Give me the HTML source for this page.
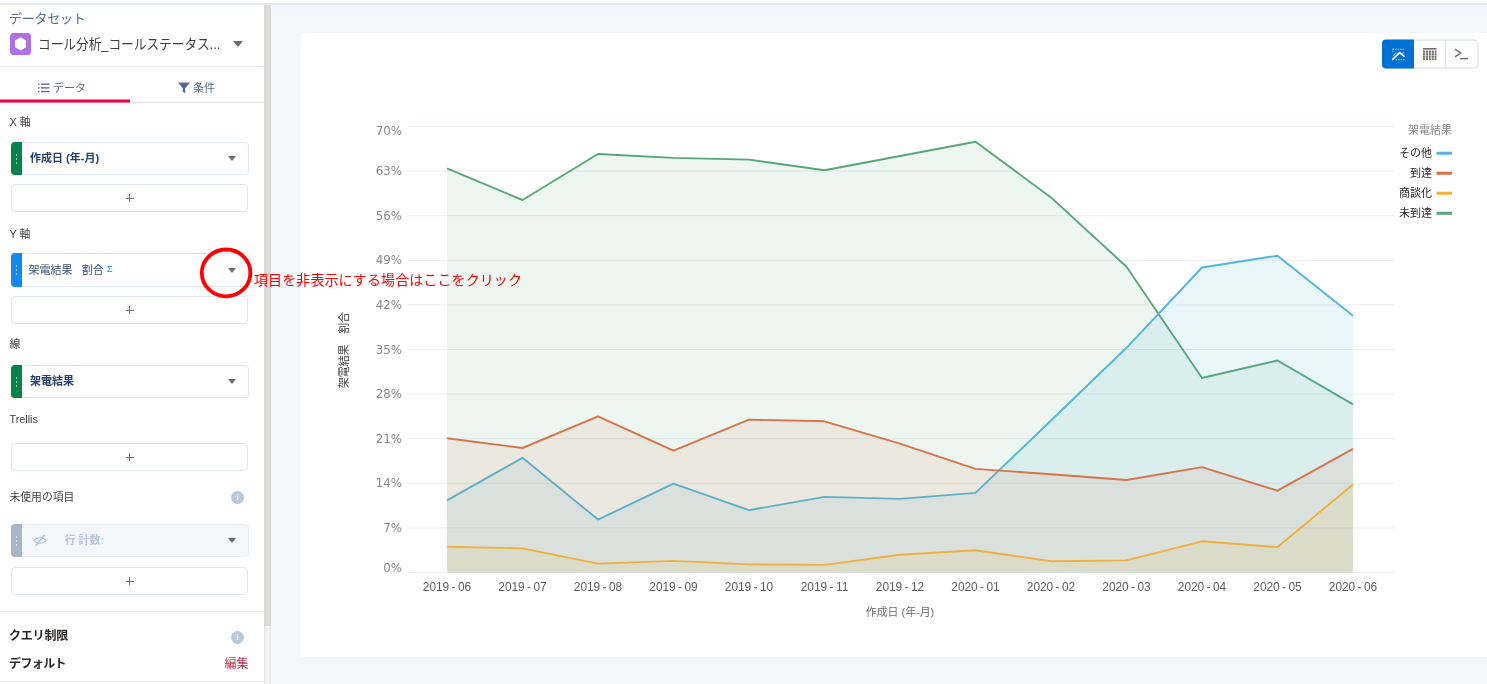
<!DOCTYPE html>
<html lang="ja">
<head>
<meta charset="utf-8">
<title>データセット</title>
<style>
*{box-sizing:border-box;margin:0;padding:0}
html,body{width:1487px;height:684px;overflow:hidden}
body{background:#f3f6fa;font-family:"Liberation Sans","Noto Sans CJK JP",sans-serif;color:#16325c;position:relative}
.abs{position:absolute}
#topbar{left:0;top:0;width:1487px;height:5px;background:linear-gradient(#fff 0,#fff 2.4px,#e4eaf1 3.2px,#e4eaf1 4px,#edf1f6 5px)}
#panel{left:0;top:5px;width:264px;height:679px;background:#fff}
#sb{left:264px;top:5px;width:7px;height:621px;background:linear-gradient(90deg,#d6d4d2,#dedcda 40%,#dedcda 60%,#d8d6d4)}
#sb2{left:264px;top:626px;width:7px;height:58px;background:linear-gradient(90deg,#e3e3e3,#f5f5f5 45%,#f5f5f5 60%,#e6e6e6)}
.lbl{position:absolute;left:9.5px;font-size:10.8px;color:#3e3e3c;line-height:14px;white-space:nowrap}
.fld{position:absolute;left:11px;width:238px;height:33px;border:1px solid #dfe6f0;border-radius:4px;background:#fff}
.fld .h{position:absolute;left:-1px;top:-1px;width:11px;height:33px;border-radius:4px 0 0 4px}
.fld .h i{position:absolute;left:4.5px;width:1.6px;height:1.6px;background:rgba(255,255,255,.6)}
.fld .t{position:absolute;left:18px;top:0;line-height:31px;font-size:11px;font-weight:bold;color:#243f6b;white-space:nowrap}
.car{position:absolute;width:0;height:0;border-left:4px solid transparent;border-right:4px solid transparent;border-top:5px solid #706e6b}
.plus{position:absolute;left:11px;width:237px;height:28px;border:1px solid #dfe6f0;border-radius:4px;background:#fff}
.plus:before{content:"";position:absolute;left:113.5px;top:12.5px;width:8px;height:1px;background:#5c7296}
.plus:after{content:"";position:absolute;left:117px;top:9px;width:1px;height:8px;background:#5c7296}
.info{position:absolute;width:13px;height:13px;border-radius:50%;background:#b8c7da;color:#fff;font-size:9px;font-weight:bold;line-height:13px;text-align:center;font-family:"Liberation Serif",serif}
#card{left:301px;top:32.6px;width:1186px;height:624.2px;background:#fff}
</style>
</head>
<body>
<div id="topbar" class="abs"></div>
<div id="panel" class="abs"></div>
<div id="sb" class="abs"></div>
<div id="sb2" class="abs"></div>

<!-- header -->
<div class="abs" style="left:9px;top:9.5px;font-size:13px;line-height:18px;letter-spacing:-0.25px;color:#527095;white-space:nowrap">データセット</div>
<svg class="abs" style="left:10px;top:33px" width="21" height="22" viewBox="0 0 21 22"><rect width="21" height="22" rx="3.5" fill="#b070e6"/><path d="M10.5 4.2 L16 7.4 V14.2 L10.5 17.6 L5 14.2 V7.4 Z" fill="#fff"/></svg>
<div class="abs" style="left:38px;top:32px;font-size:14px;line-height:24px;color:#3e3e3c;white-space:nowrap;transform:scaleX(0.905);transform-origin:0 0">コール分析_コールステータス...</div>
<div class="car" style="left:233px;top:41px;border-left-width:5px;border-right-width:5px;border-top-width:6px"></div>
<div class="abs" style="left:0;top:66px;width:264px;height:1px;background:#e6ebf2"></div>

<!-- tabs -->
<div class="abs" style="left:0;top:101px;width:264px;height:1px;background:#dddbda;transform:translateY(0.7px)"></div>
<div class="abs" style="left:0;top:99px;width:130px;height:3px;background:#f5004b;transform:translateY(0.5px)"></div>
<svg class="abs" style="left:38px;top:83px" width="12" height="10" viewBox="0 0 12 10"><g fill="#54698d"><rect x="0" y="0.5" width="1.5" height="1.3"/><rect x="3" y="0.5" width="8.5" height="1.3"/><rect x="0" y="4.2" width="1.5" height="1.3"/><rect x="3" y="4.2" width="8.5" height="1.3"/><rect x="0" y="7.9" width="1.5" height="1.3"/><rect x="3" y="7.9" width="8.5" height="1.3"/></g></svg>
<div class="abs" style="left:53px;top:79px;font-size:11px;line-height:18px;color:#54708f;white-space:nowrap">データ</div>
<svg class="abs" style="left:178px;top:82px" width="12" height="12" viewBox="0 0 12 12"><path d="M0 0.5 H12 L7.2 6.2 V11.5 L4.8 9.8 V6.2 Z" fill="#54698d"/></svg>
<div class="abs" style="left:193px;top:79px;font-size:11px;line-height:18px;color:#54708f;white-space:nowrap">条件</div>

<!-- X axis -->
<div class="lbl" style="top:114.5px">X 軸</div>
<div class="fld" style="top:142px"><div class="h" style="background:#04844b"><i style="top:12px"></i><i style="top:16px"></i><i style="top:20px"></i></div><div class="t">作成日 (年-月)</div></div>
<div class="car" style="left:228px;top:156px"></div>
<div class="plus" style="top:184px"></div>

<!-- Y axis -->
<div class="lbl" style="top:227px">Y 軸</div>
<div class="fld" style="top:253px;height:34px"><div class="h" style="background:#1589ee;height:34px"><i style="top:12px"></i><i style="top:16px"></i><i style="top:20px"></i></div><div class="t" style="font-weight:normal;font-size:11px;left:16.5px;top:1.3px;color:#3a5078">架電結果&nbsp;&nbsp;&nbsp;割合 <span style="font-size:9.5px;color:#1589ee;position:relative;top:-2px">Σ</span></div></div>
<div class="car" style="left:228px;top:268px"></div>
<div class="plus" style="top:296px"></div>

<!-- line -->
<div class="lbl" style="top:337px">線</div>
<div class="fld" style="top:365px"><div class="h" style="background:#04844b"><i style="top:12px"></i><i style="top:16px"></i><i style="top:20px"></i></div><div class="t">架電結果</div></div>
<div class="car" style="left:228px;top:379px"></div>

<!-- Trellis -->
<div class="lbl" style="top:412px">Trellis</div>
<div class="plus" style="top:443px"></div>

<!-- unused -->
<div class="lbl" style="top:490px">未使用の項目</div>
<div class="info" style="left:231px;top:491px">i</div>
<div class="fld" style="top:524px;background:#f4f6f9;border-color:#e9eef5"><div class="h" style="background:#a8b7c7"><i style="top:12px"></i><i style="top:16px"></i><i style="top:20px"></i></div><div class="t" style="left:52.5px;color:#b8c6dc">行 計数:</div></div>
<svg class="abs" style="left:33px;top:534px" width="14" height="13" viewBox="0 0 14 13"><g fill="none" stroke="#b0c0d8" stroke-width="1.3"><path d="M1 6.5 C3 3,11 3,13 6.5 C11 10,3 10,1 6.5Z"/><path d="M11.5 1 L2.5 12"/></g></svg>
<div class="car" style="left:228px;top:538px"></div>
<div class="plus" style="top:567px"></div>

<div class="abs" style="left:0;top:611px;width:264px;height:1px;background:#e6ebf2"></div>
<div class="abs" style="left:9px;top:626px;font-size:12px;font-weight:bold;line-height:20px;letter-spacing:-0.2px;color:#2b2826;white-space:nowrap">クエリ制限</div>
<div class="info" style="left:231px;top:630.5px">i</div>
<div class="abs" style="left:9px;top:654px;font-size:12px;font-weight:bold;line-height:20px;letter-spacing:-0.6px;color:#2b2826;white-space:nowrap">デフォルト</div>
<div class="abs" style="left:224.5px;top:654px;font-size:12px;line-height:20px;color:#b83250;white-space:nowrap">編集</div>
<div class="abs" style="left:0;top:681px;width:264px;height:1px;background:#e6ebf2"></div>

<!-- chart card -->
<div id="card" class="abs"></div>
<svg id="chart" class="abs" style="left:0;top:0" width="1487" height="684" viewBox="0 0 1487 684">
<g font-family="Liberation Sans, Noto Sans CJK JP, sans-serif">
<line x1="407.5" y1="572.5" x2="1394.5" y2="572.5" stroke="#e9eef5" stroke-width="1"/>
<line x1="407.5" y1="527.9" x2="1394.5" y2="527.9" stroke="#e9eef5" stroke-width="1"/>
<line x1="407.5" y1="483.3" x2="1394.5" y2="483.3" stroke="#e9eef5" stroke-width="1"/>
<line x1="407.5" y1="438.7" x2="1394.5" y2="438.7" stroke="#e9eef5" stroke-width="1"/>
<line x1="407.5" y1="394.1" x2="1394.5" y2="394.1" stroke="#e9eef5" stroke-width="1"/>
<line x1="407.5" y1="349.5" x2="1394.5" y2="349.5" stroke="#e9eef5" stroke-width="1"/>
<line x1="407.5" y1="304.9" x2="1394.5" y2="304.9" stroke="#e9eef5" stroke-width="1"/>
<line x1="407.5" y1="260.3" x2="1394.5" y2="260.3" stroke="#e9eef5" stroke-width="1"/>
<line x1="407.5" y1="215.7" x2="1394.5" y2="215.7" stroke="#e9eef5" stroke-width="1"/>
<line x1="407.5" y1="171.1" x2="1394.5" y2="171.1" stroke="#e9eef5" stroke-width="1"/>
<line x1="407.5" y1="126.5" x2="1394.5" y2="126.5" stroke="#e9eef5" stroke-width="1"/>
<polygon points="447.0,572.5 447.0,168.4 522.5,200.0 598.0,154.0 673.5,157.9 749.0,159.6 824.5,170.2 900.0,156.0 975.5,141.7 1051.0,197.4 1126.5,266.7 1202.0,378.0 1277.5,360.5 1353.0,404.4 1353.0,572.5" fill="#5aa67c" fill-opacity="0.105"/>
<polyline points="447.0,168.4 522.5,200.0 598.0,154.0 673.5,157.9 749.0,159.6 824.5,170.2 900.0,156.0 975.5,141.7 1051.0,197.4 1126.5,266.7 1202.0,378.0 1277.5,360.5 1353.0,404.4" fill="none" stroke="#5aa67c" stroke-width="1.9" stroke-linejoin="round"/>
<polygon points="447.0,572.5 447.0,500.4 522.5,457.8 598.0,519.6 673.5,483.6 749.0,510.2 824.5,496.9 900.0,498.9 975.5,492.9 1051.0,420.5 1126.5,347.8 1202.0,267.5 1277.5,255.7 1353.0,315.8 1353.0,572.5" fill="#3ab0cc" fill-opacity="0.105"/>
<polyline points="447.0,500.4 522.5,457.8 598.0,519.6 673.5,483.6 749.0,510.2 824.5,496.9 900.0,498.9 975.5,492.9 1051.0,420.5 1126.5,347.8 1202.0,267.5 1277.5,255.7 1353.0,315.8" fill="none" stroke="#52b7d8" stroke-width="1.9" stroke-linejoin="round"/>
<polygon points="447.0,572.5 447.0,438.2 522.5,448.0 598.0,416.4 673.5,450.7 749.0,419.6 824.5,421.3 900.0,443.6 975.5,468.9 1051.0,474.2 1126.5,480.0 1202.0,467.1 1277.5,490.7 1353.0,448.9 1353.0,572.5" fill="#d8734a" fill-opacity="0.105"/>
<polyline points="447.0,438.2 522.5,448.0 598.0,416.4 673.5,450.7 749.0,419.6 824.5,421.3 900.0,443.6 975.5,468.9 1051.0,474.2 1126.5,480.0 1202.0,467.1 1277.5,490.7 1353.0,448.9" fill="none" stroke="#d8734a" stroke-width="1.9" stroke-linejoin="round"/>
<polygon points="447.0,572.5 447.0,546.7 522.5,548.4 598.0,563.6 673.5,560.9 749.0,564.4 824.5,564.9 900.0,554.7 975.5,550.2 1051.0,561.3 1126.5,560.4 1202.0,541.3 1277.5,547.1 1353.0,484.4 1353.0,572.5" fill="#efb040" fill-opacity="0.105"/>
<polyline points="447.0,546.7 522.5,548.4 598.0,563.6 673.5,560.9 749.0,564.4 824.5,564.9 900.0,554.7 975.5,550.2 1051.0,561.3 1126.5,560.4 1202.0,541.3 1277.5,547.1 1353.0,484.4" fill="none" stroke="#efb040" stroke-width="1.9" stroke-linejoin="round"/>
<text x="402" y="571.5" text-anchor="end" font-family="DejaVu Sans, sans-serif" font-size="11.8" fill="#8a8886">0%</text>
<text x="402" y="531.9" text-anchor="end" font-family="DejaVu Sans, sans-serif" font-size="11.8" fill="#8a8886">7%</text>
<text x="402" y="487.3" text-anchor="end" font-family="DejaVu Sans, sans-serif" font-size="11.8" fill="#8a8886">14%</text>
<text x="402" y="442.7" text-anchor="end" font-family="DejaVu Sans, sans-serif" font-size="11.8" fill="#8a8886">21%</text>
<text x="402" y="398.1" text-anchor="end" font-family="DejaVu Sans, sans-serif" font-size="11.8" fill="#8a8886">28%</text>
<text x="402" y="353.5" text-anchor="end" font-family="DejaVu Sans, sans-serif" font-size="11.8" fill="#8a8886">35%</text>
<text x="402" y="308.9" text-anchor="end" font-family="DejaVu Sans, sans-serif" font-size="11.8" fill="#8a8886">42%</text>
<text x="402" y="264.3" text-anchor="end" font-family="DejaVu Sans, sans-serif" font-size="11.8" fill="#8a8886">49%</text>
<text x="402" y="219.7" text-anchor="end" font-family="DejaVu Sans, sans-serif" font-size="11.8" fill="#8a8886">56%</text>
<text x="402" y="175.1" text-anchor="end" font-family="DejaVu Sans, sans-serif" font-size="11.8" fill="#8a8886">63%</text>
<text x="402" y="135.0" text-anchor="end" font-family="DejaVu Sans, sans-serif" font-size="11.8" fill="#8a8886">70%</text>
<text x="447.0" y="590.7" text-anchor="middle" font-size="11.9" word-spacing="-0.9" fill="#5e5c5a">2019 - 06</text>
<text x="522.5" y="590.7" text-anchor="middle" font-size="11.9" word-spacing="-0.9" fill="#5e5c5a">2019 - 07</text>
<text x="598.0" y="590.7" text-anchor="middle" font-size="11.9" word-spacing="-0.9" fill="#5e5c5a">2019 - 08</text>
<text x="673.5" y="590.7" text-anchor="middle" font-size="11.9" word-spacing="-0.9" fill="#5e5c5a">2019 - 09</text>
<text x="749.0" y="590.7" text-anchor="middle" font-size="11.9" word-spacing="-0.9" fill="#5e5c5a">2019 - 10</text>
<text x="824.5" y="590.7" text-anchor="middle" font-size="11.9" word-spacing="-0.9" fill="#5e5c5a">2019 - 11</text>
<text x="900.0" y="590.7" text-anchor="middle" font-size="11.9" word-spacing="-0.9" fill="#5e5c5a">2019 - 12</text>
<text x="975.5" y="590.7" text-anchor="middle" font-size="11.9" word-spacing="-0.9" fill="#5e5c5a">2020 - 01</text>
<text x="1051.0" y="590.7" text-anchor="middle" font-size="11.9" word-spacing="-0.9" fill="#5e5c5a">2020 - 02</text>
<text x="1126.5" y="590.7" text-anchor="middle" font-size="11.9" word-spacing="-0.9" fill="#5e5c5a">2020 - 03</text>
<text x="1202.0" y="590.7" text-anchor="middle" font-size="11.9" word-spacing="-0.9" fill="#5e5c5a">2020 - 04</text>
<text x="1277.5" y="590.7" text-anchor="middle" font-size="11.9" word-spacing="-0.9" fill="#5e5c5a">2020 - 05</text>
<text x="1353.0" y="590.7" text-anchor="middle" font-size="11.9" word-spacing="-0.9" fill="#5e5c5a">2020 - 06</text>
<text x="900" y="615.6" text-anchor="middle" font-size="10.9" fill="#6f6d6a">作成日 (年-月)</text>
<text transform="translate(348.3,350) rotate(-90)" text-anchor="middle" font-size="10.9" fill="#3e3e3c">架電結果　割合</text>
<text x="1452" y="134" text-anchor="end" font-size="11" fill="#8a8886">架電結果</text>
<text x="1432" y="157" text-anchor="end" font-size="11" fill="#2b2826">その他</text>
<rect x="1436.5" y="151.8" width="15.5" height="3" rx="0.5" fill="#52b7d8"/>
<text x="1432" y="177" text-anchor="end" font-size="11" fill="#2b2826">到達</text>
<rect x="1436.5" y="171.8" width="15.5" height="3" rx="0.5" fill="#d8734a"/>
<text x="1432" y="197" text-anchor="end" font-size="11" fill="#2b2826">商談化</text>
<rect x="1436.5" y="191.8" width="15.5" height="3" rx="0.5" fill="#f5b041"/>
<text x="1432" y="217" text-anchor="end" font-size="11" fill="#2b2826">未到達</text>
<rect x="1436.5" y="211.8" width="15.5" height="3" rx="0.5" fill="#5aa67c"/>
</g>
</svg>

<!-- toolbar buttons -->
<svg class="abs" style="left:1380px;top:37px" width="102" height="34" viewBox="0 0 102 34"><rect x="2.4" y="3.1" width="95.6" height="28" rx="4" fill="#fff" stroke="#d8dde6" stroke-width="1"/><path d="M34 2.6 H6 a4 4 0 0 0 -4 4 V27.6 a4 4 0 0 0 4 4 H34 Z" fill="#0070d2"/><path d="M65.7 3V31.5" stroke="#d8dde6" stroke-width="1"/></svg>
<svg class="abs" style="left:1392px;top:47.5px" width="13" height="13" viewBox="0 0 13 13"><g stroke="#fff" fill="none"><path d="M0.5 1.4H12.5" stroke-width="1.3" stroke-dasharray="1.6 0.9" opacity=".55"/><path d="M3.6 11.6H12.5" stroke-width="1.3" stroke-dasharray="1.6 0.9" opacity=".55"/><path d="M0.9 0.6V5.2" stroke-width="1.2" stroke-dasharray="1.4 0.9" opacity=".45"/><path d="M1 7.9L4.3 4.8M9 6.1L12.2 4.5" stroke-width="1.1" opacity=".55"/><path d="M0.6 11.3L7.7 4.7L11.9 8.2" stroke-width="1.7" stroke-linecap="round" stroke-linejoin="round"/></g></svg>
<svg class="abs" style="left:1423px;top:48px" width="14" height="12" viewBox="0 0 14 12"><g fill="#706e6b"><rect x="0" y="0" width="13.5" height="1.6"/><rect x="0" y="2.6" width="2.1" height="9.4"/><rect x="2.9" y="2.6" width="2.1" height="9.4"/><rect x="5.8" y="2.6" width="2.1" height="9.4"/><rect x="8.7" y="2.6" width="2.1" height="9.4"/><rect x="11.6" y="2.6" width="1.9" height="9.4"/></g><g fill="#fff" opacity=".55"><rect x="0" y="4.6" width="14" height=".8"/><rect x="0" y="7.1" width="14" height=".8"/><rect x="0" y="9.6" width="14" height=".8"/></g></svg>
<svg class="abs" style="left:1454px;top:48px" width="15" height="12" viewBox="0 0 15 12"><g stroke="#706e6b" fill="none" stroke-width="1.5"><path d="M1 1.2 L6.6 5 L1 8.8"/><path d="M6.2 10.6 H14"/></g></svg>

<!-- annotation -->
<svg class="abs" style="left:196px;top:243px" width="60" height="60" viewBox="0 0 60 60"><ellipse cx="30.1" cy="29.9" rx="24.3" ry="23.4" fill="none" stroke="#f00" stroke-width="3.8"/></svg>
<div class="abs" style="left:254px;top:271.2px;font-size:14px;line-height:18px;letter-spacing:0.1px;color:#f00;white-space:nowrap">項目を非表示にする場合はここをクリック</div>
</body>
</html>
